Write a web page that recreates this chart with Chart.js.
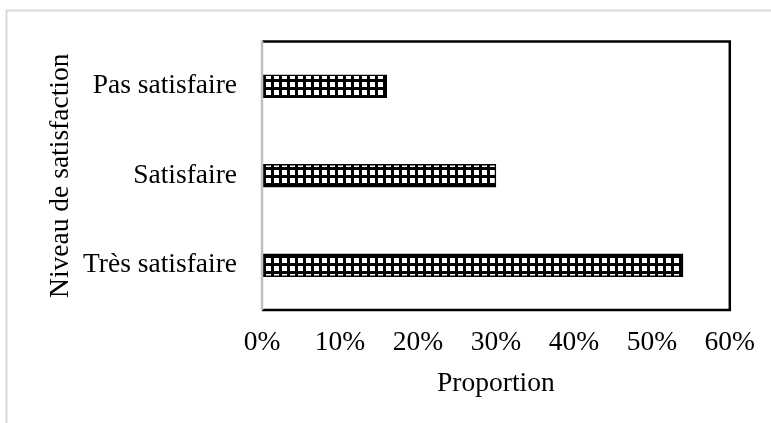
<!DOCTYPE html>
<html>
<head>
<meta charset="utf-8">
<script src="https://cdn.jsdelivr.net/npm/chart.js@4/dist/chart.umd.min.js"></script>
<style>
  html, body { margin: 0; padding: 0; background: #ffffff; }
  #wrap { width: 771px; height: 423px; position: relative; }
</style>
</head>
<body>
<div id="wrap"><canvas id="c" width="771" height="423"></canvas></div>
<script>
const categories = ['Pas satisfaire', 'Satisfaire', 'Très satisfaire'];
const proportions = [16, 30, 54];
const xTickValues = [0, 10, 20, 30, 40, 50, 60];
const xTitle = 'Proportion';
const yTitle = 'Niveau de satisfaction';

function makePattern() {
  const p = document.createElement('canvas');
  p.width = 8; p.height = 8;
  const g = p.getContext('2d');
  g.fillStyle = '#000000';
  g.fillRect(0, 0, 8, 8);
  g.fillStyle = '#ffffff';
  g.fillRect(2, 2, 5, 5);
  return g.createPattern(p, 'repeat');
}

const FONT = { family: '"Liberation Serif", "Times New Roman", serif', size: 27.5 };

const frame = {
  id: 'frame',
  beforeDraw(chart) {
    const ctx = chart.ctx;
    ctx.save();
    ctx.strokeStyle = '#d9d9d9';
    ctx.lineWidth = 2;
    ctx.beginPath();
    ctx.moveTo(6.5, 423);
    ctx.lineTo(6.5, 10.5);
    ctx.lineTo(771, 10.5);
    ctx.stroke();
    ctx.restore();
  },
  afterDatasetsDraw(chart) {
    const ctx = chart.ctx;
    const a = chart.chartArea;
    ctx.save();
    ctx.strokeStyle = '#000000';
    ctx.lineWidth = 2.5;
    ctx.beginPath();
    ctx.moveTo(a.left, a.top);
    ctx.lineTo(a.right, a.top);
    ctx.lineTo(a.right, a.bottom);
    ctx.lineTo(a.left, a.bottom);
    ctx.stroke();
    ctx.strokeStyle = '#bfbfbf';
    ctx.lineWidth = 2.5;
    ctx.beginPath();
    ctx.moveTo(a.left, a.top - 1);
    ctx.lineTo(a.left, a.bottom);
    ctx.stroke();
    ctx.restore();
  }
};

new Chart(document.getElementById('c'), {
  type: 'bar',
  data: {
    labels: categories,
    datasets: [{
      data: proportions,
      backgroundColor: makePattern(),
      borderColor: '#000000',
      borderWidth: 1.5,
      borderSkipped: false,
      barThickness: 23
    }]
  },
  options: {
    indexAxis: 'y',
    responsive: false,
    animation: false,
    events: [],
    layout: { padding: { top: 40, right: 41, left: 0, bottom: 0 } },
    plugins: { legend: { display: false }, tooltip: { enabled: false } },
    scales: {
      x: {
        min: 0, max: 60,
        afterBuildTicks(scale) { scale.ticks = xTickValues.map(v => ({ value: v })); },
        afterFit(scale) { scale.height = 113; },
        grid: { display: false, drawTicks: false },
        border: { display: false },
        ticks: { color: '#000000', font: FONT, padding: 16, maxRotation: 0, autoSkip: false,
                 callback: v => v + '%' },
        title: { display: true, text: xTitle, color: '#000000', font: FONT, padding: { top: 0, bottom: 23 } }
      },
      y: {
        afterFit(scale) { scale.width = 262; },
        grid: { display: false, drawTicks: false },
        border: { display: false },
        ticks: { color: '#000000', font: FONT, padding: 25 },
        title: { display: true, text: yTitle, color: '#000000', font: FONT, padding: { top: 44, bottom: 0 } }
      }
    }
  },
  plugins: [frame]
});
</script>
</body>
</html>
